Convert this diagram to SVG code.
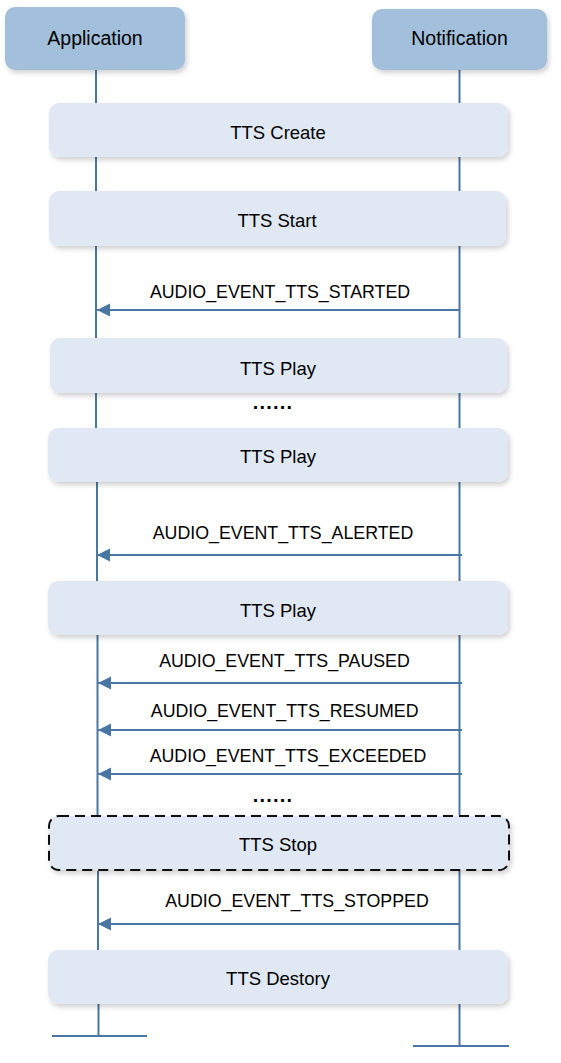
<svg xmlns="http://www.w3.org/2000/svg" width="561" height="1063" viewBox="0 0 561 1063">
<style>
  .hdr { fill: #a2bfdb; }
  .box { fill: #dfe8f3; }
  .stop { fill: #dfe8f3; stroke: #111; stroke-width: 2; stroke-dasharray: 10 6; }
  .life { stroke: #4a76a4; stroke-width: 2; fill: none; }
  .msg { stroke: #4a76a4; stroke-width: 2; fill: none; marker-end: url(#arr); }
  text { font-family: "Liberation Sans", Arial, sans-serif; fill: #000; text-anchor: middle; }
  .ht { font-size: 19.5px; }
  .bt { font-size: 18.5px; }
  .lt { font-size: 17.8px; }
  .dots { font-size: 20px; font-weight: bold; letter-spacing: 1.2px; }
</style>
<defs>
  <filter id="sh" x="-10%" y="-30%" width="120%" height="170%">
    <feDropShadow dx="2" dy="3" stdDeviation="2.5" flood-color="#000" flood-opacity="0.18"/>
  </filter>
  <marker id="arr" markerWidth="14" markerHeight="14" refX="13" refY="6.5" orient="auto" markerUnits="userSpaceOnUse">
    <path d="M0,0 L13,6.5 L0,13 Z" fill="#4a76a4"/>
  </marker>
</defs>
<g id="lifelines">
  <path class="life" d="M96,70 V103 M96,157 V191 M96,246 V338 M96,393 V428 M97,482 V581 M97.5,635 V815 M98,871 V950 M98.5,1004 V1037"/>
  <path class="life" d="M459.5,70 V103 M459.5,157 V191 M459.5,246 V338 M459.5,393 V428 M459.5,482 V581 M459.5,635 V815 M459.5,871 V950 M459.5,1004 V1046"/>
  <path class="life" d="M52,1036 H147 M413,1046 H509"/>
</g>
<g id="connectors">
  <line class="msg" x1="460" y1="310" x2="97" y2="310"/>
  <line class="msg" x1="462" y1="555" x2="97" y2="555"/>
  <line class="msg" x1="462" y1="683" x2="98" y2="683"/>
  <line class="msg" x1="462" y1="730" x2="98" y2="730"/>
  <line class="msg" x1="462" y1="774" x2="98" y2="774"/>
  <line class="msg" x1="460" y1="924" x2="98" y2="924"/>
</g>
<g id="labels">
  <text class="lt" x="280" y="298">AUDIO_EVENT_TTS_STARTED</text>
  <text class="lt" x="283" y="539">AUDIO_EVENT_TTS_ALERTED</text>
  <text class="lt" x="284.5" y="667">AUDIO_EVENT_TTS_PAUSED</text>
  <text class="lt" x="284.7" y="717">AUDIO_EVENT_TTS_RESUMED</text>
  <text class="lt" x="288" y="762">AUDIO_EVENT_TTS_EXCEEDED</text>
  <text class="lt" x="297" y="907">AUDIO_EVENT_TTS_STOPPED</text>
  <text class="dots" x="273" y="409">......</text>
  <text class="dots" x="273" y="802">......</text>
</g>
<g id="application">
  <rect class="hdr" x="5" y="7" width="180" height="63" rx="10" filter="url(#sh)"/>
  <text class="ht" x="95" y="45">Application</text>
</g>
<g id="notification">
  <rect class="hdr" x="372" y="9" width="175" height="61" rx="10" filter="url(#sh)"/>
  <text class="ht" x="459.5" y="45">Notification</text>
</g>
<g id="tts-create">
  <rect class="box" x="49" y="103" width="459" height="54" rx="10" filter="url(#sh)"/>
  <text class="bt" x="278" y="139">TTS Create</text>
</g>
<g id="tts-start">
  <rect class="box" x="49" y="191" width="457" height="55" rx="10" filter="url(#sh)"/>
  <text class="bt" x="277" y="227">TTS Start</text>
</g>
<g id="tts-play-1">
  <rect class="box" x="50" y="338" width="457" height="55" rx="10" filter="url(#sh)"/>
  <text class="bt" x="278" y="375">TTS Play</text>
</g>
<g id="tts-play-2">
  <rect class="box" x="48" y="428" width="460" height="54" rx="10" filter="url(#sh)"/>
  <text class="bt" x="278" y="463">TTS Play</text>
</g>
<g id="tts-play-3">
  <rect class="box" x="48" y="581" width="460" height="54" rx="10" filter="url(#sh)"/>
  <text class="bt" x="278" y="617">TTS Play</text>
</g>
<g id="tts-stop">
  <rect class="stop" x="49" y="816" width="460" height="54" rx="10" filter="url(#sh)"/>
  <text class="bt" x="278" y="851">TTS Stop</text>
</g>
<g id="tts-destory">
  <rect class="box" x="48" y="950" width="460" height="54" rx="10" filter="url(#sh)"/>
  <text class="bt" x="278" y="985">TTS Destory</text>
</g>
</svg>
